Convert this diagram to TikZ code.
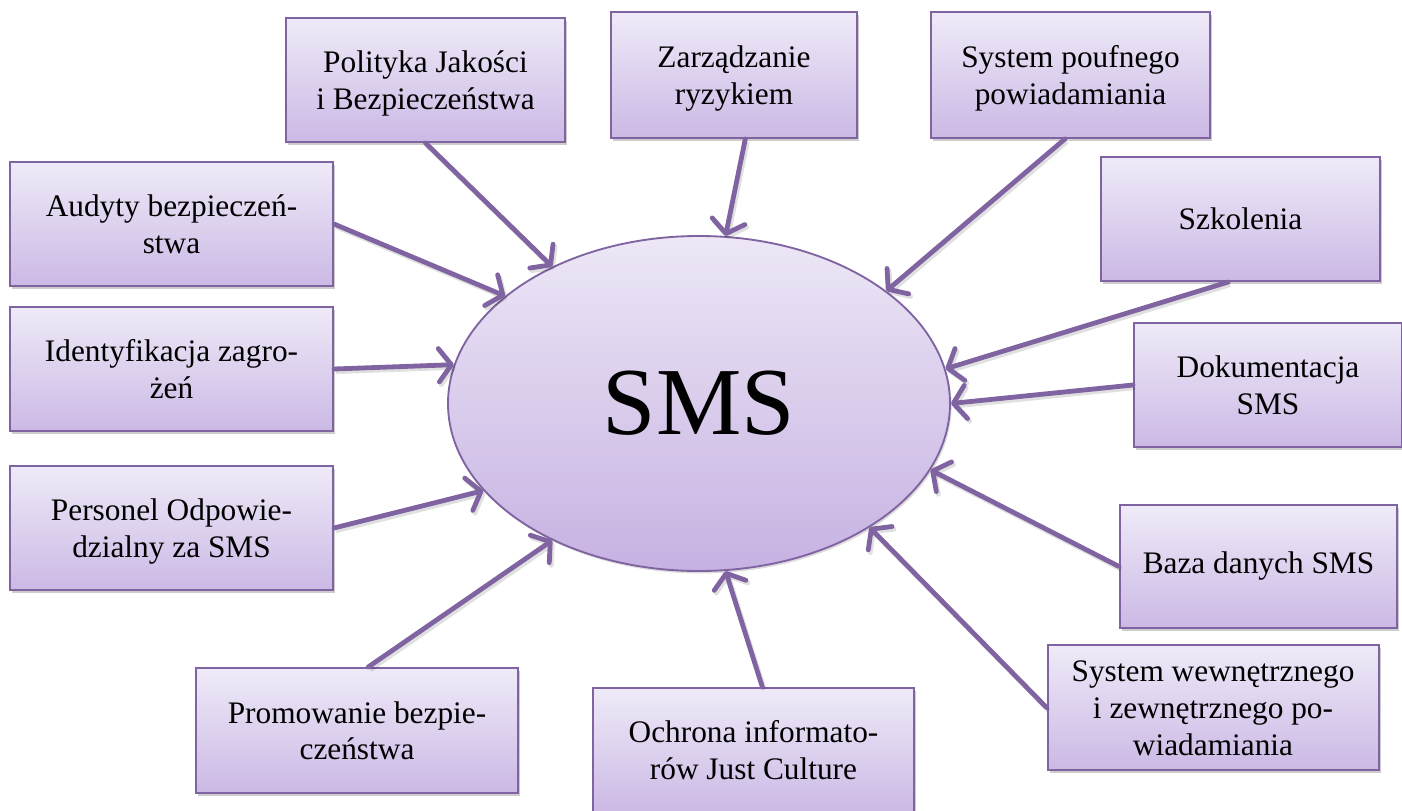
\documentclass[tikz,border=0pt]{standalone}
\usepackage{fontspec}
\setmainfont{Liberation Serif}
\usetikzlibrary{arrows.meta,shapes.geometric,shadows}

\definecolor{edge}{HTML}{8064A2}
\definecolor{filltop}{HTML}{EFEAF8}
\definecolor{fillbot}{HTML}{CBB9E5}
\definecolor{elltop}{HTML}{EDE7F6}
\definecolor{ellbot}{HTML}{C6B2E2}

\tikzset{
  topic/.style={draw=edge, line width=1.5pt, rectangle, inner sep=0pt,
    top color=filltop, bottom color=fillbot, align=center,
    font=\fontsize{23.5pt}{27.5pt}\selectfont,
    drop shadow={shadow xshift=1.5pt, shadow yshift=-2.2pt, opacity=0.28, fill=black!70}},
  % several lines of text sit a little below the middle of the box
  twolines/.style={text height=50pt, text depth=6pt},
  threelines/.style={text height=77.5pt, text depth=6pt},
  hub/.style={draw=edge, line width=1.4pt, ellipse, inner sep=0pt,
    top color=elltop, bottom color=ellbot,
    minimum width=376.5pt, minimum height=251.25pt,
    font=\fontsize{72pt}{80pt}\selectfont,
    drop shadow={shadow xshift=1.2pt, shadow yshift=-1.8pt, opacity=0.2, fill=black!70}},
  feed/.style={draw=edge, line width=3.6pt, line cap=round,
    -{Straight Barb[length=9.5pt,width=25pt,round]},
    preaction={draw=black, opacity=0.12, line width=3.6pt,
      transform canvas={shift={(1.5pt,-2pt)}}}}
}

\begin{document}
\begin{tikzpicture}[x=0.75pt, y=-0.75pt]
\useasboundingbox (0,0) rectangle (1402,810);

% central ellipse
\node[hub] (sms) at (699,403.5) {SMS};

% surrounding elements
\node[topic, twolines, minimum width=209.25pt, minimum height=93pt]     (pol) at (425.5,80)   {Polityka Jakości\\i Bezpieczeństwa};
\node[topic, twolines, minimum width=184.5pt,  minimum height=94.5pt]   (zar) at (734,75)     {Zarządzanie\\ryzykiem};
\node[topic, twolines, minimum width=209.25pt, minimum height=94.5pt]   (pou) at (1070.5,75)  {System poufnego\\powiadamiania};
\node[topic, minimum width=209.25pt, minimum height=93pt]               (szk) at (1240.5,219) {Szkolenia};
\node[topic, twolines, minimum width=201pt,    minimum height=93pt]     (dok) at (1268,385)   {Dokumentacja\\SMS};
\node[topic, minimum width=207.75pt, minimum height=92.25pt]            (baz) at (1258.5,566.5){Baza danych SMS};
\node[topic, threelines, minimum width=248.25pt, minimum height=93.75pt](wew) at (1213,707.5) {System wewnętrznego\\i zewnętrznego po-\\wiadamiania};
\node[topic, twolines, minimum width=240.75pt, minimum height=93pt]     (och) at (753.5,750)  {Ochrona informato-\\rów Just Culture};
\node[topic, twolines, minimum width=241.5pt,  minimum height=93.75pt]  (pro) at (357,730.5)  {Promowanie bezpie-\\czeństwa};
\node[topic, twolines, minimum width=242.25pt, minimum height=93pt]     (per) at (171.5,528)  {Personel Odpowie-\\dzialny za SMS};
\node[topic, twolines, minimum width=242.25pt, minimum height=93pt]     (ide) at (171.5,369)  {Identyfikacja zagro-\\żeń};
\node[topic, twolines, minimum width=242.25pt, minimum height=93pt]     (aud) at (171.5,224)  {Audyty bezpieczeń-\\stwa};

% arrows into the hub
\draw[feed] (pol.south) -- (sms.137.5);
\draw[feed] (zar.-80)   -- (sms.81.5);
\draw[feed] (pou.-95)   -- (sms.31.7);
\draw[feed] (szk.-101)  -- (sms.8.7);
\draw[feed] (dok.west)  -- (sms.0.3);
\draw[feed] (baz.west)  -- (sms.-16.4);
\draw[feed] (wew.west)  -- (sms.-36);
\draw[feed] (och.82)    -- (sms.-81.8);
\draw[feed] (pro.80)    -- (sms.223.1);
\draw[feed] (per.east)  -- (sms.202.5);
\draw[feed] (ide.east)  -- (sms.171.8);
\draw[feed] (aud.east)  -- (sms.151.8);
\end{tikzpicture}
\end{document}
